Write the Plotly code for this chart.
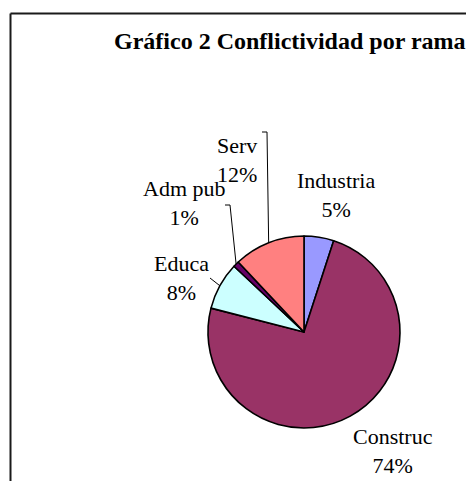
import math
import plotly.graph_objects as go

# ---- data ----
categories = ["Industria", "Construc", "Educa", "Adm pub", "Serv"]
values = [5, 74, 8, 1, 12]
colors = ["#9999FF", "#993366", "#CCFFFF", "#660066", "#FF8080"]
title_text = "Gráfico 2 Conflictividad por rama"

# ---- layout constants ----
W, H = 466, 481
CX, CY, R = 304, 332, 96          # pie centre / radius in px
FONT = "Liberation Serif, Times New Roman, serif"

def px2paper(x, y):
    return x / W, 1 - y / H

# label centres (px) and leader-line elbows (px)
label_pos = {
    "Industria": (336, 195),
    "Construc": (393, 451),
    "Educa": (181, 278),
    "Adm pub": (184, 203),
    "Serv": (237, 160),
}
leaders = {
    "Serv": [(262, 132), (267, 132)],
    "Adm pub": [(225, 205), (230, 205)],
    "Educa": [(210, 278)],
}

fig = go.Figure()
x0, y1 = px2paper(CX - R, CY - R)
x1, y0 = px2paper(CX + R, CY + R)
fig.add_trace(go.Pie(
    labels=categories, values=values, sort=False, direction="clockwise",
    rotation=0, marker=dict(colors=colors, line=dict(color="black", width=1.6)),
    textinfo="none", hoverinfo="label+percent", showlegend=False,
    domain=dict(x=[x0, x1], y=[y0, y1]),
))

total = sum(values)
annotations = []
shapes = []
cum = 0
for name, v in zip(categories, values):
    mid = (cum + v / 2) / total * 2 * math.pi
    cum += v
    pct = round(v / total * 100)
    lx, ly = label_pos[name]
    px_, py_ = px2paper(lx, ly)
    annotations.append(dict(
        x=px_, y=py_, xref="paper", yref="paper", xanchor="center", yanchor="middle",
        text=f"{name}<br>{pct}%", showarrow=False,
        font=dict(family=FONT, size=22, color="black"),
    ))
    if name in leaders:
        ex = CX + R * math.sin(mid)
        ey = CY - R * math.cos(mid)
        pts = leaders[name] + [(ex, ey)]
        path = "M " + " L ".join(f"{px2paper(a, b)[0]},{px2paper(a, b)[1]}" for a, b in pts)
        shapes.append(dict(type="path", xref="paper", yref="paper", path=path,
                           line=dict(color="black", width=1)))

# title
tx, ty = px2paper(290, 41)
annotations.append(dict(
    x=tx, y=ty, xref="paper", yref="paper", xanchor="center", yanchor="middle",
    text=f"<b>{title_text}</b>", showarrow=False,
    font=dict(family=FONT, size=24, color="black"),
))

# chart border (cropped: top and left visible)
bx, by = px2paper(10.5, 13.5)
shapes.append(dict(type="line", xref="paper", yref="paper", x0=bx, y0=by, x1=1.01, y1=by,
                   line=dict(color="#1a1a1a", width=2)))
shapes.append(dict(type="line", xref="paper", yref="paper", x0=bx, y0=by, x1=bx, y1=-0.01,
                   line=dict(color="#1a1a1a", width=2)))

fig.update_layout(
    width=W, height=H, margin=dict(l=0, r=0, t=0, b=0),
    paper_bgcolor="white", plot_bgcolor="white",
    annotations=annotations, shapes=shapes,
)
fig.write_html(
    "out.html",
    config={"displayModeBar": False},
    post_script="document.body.style.margin='0';document.body.style.overflow='hidden';",
)
